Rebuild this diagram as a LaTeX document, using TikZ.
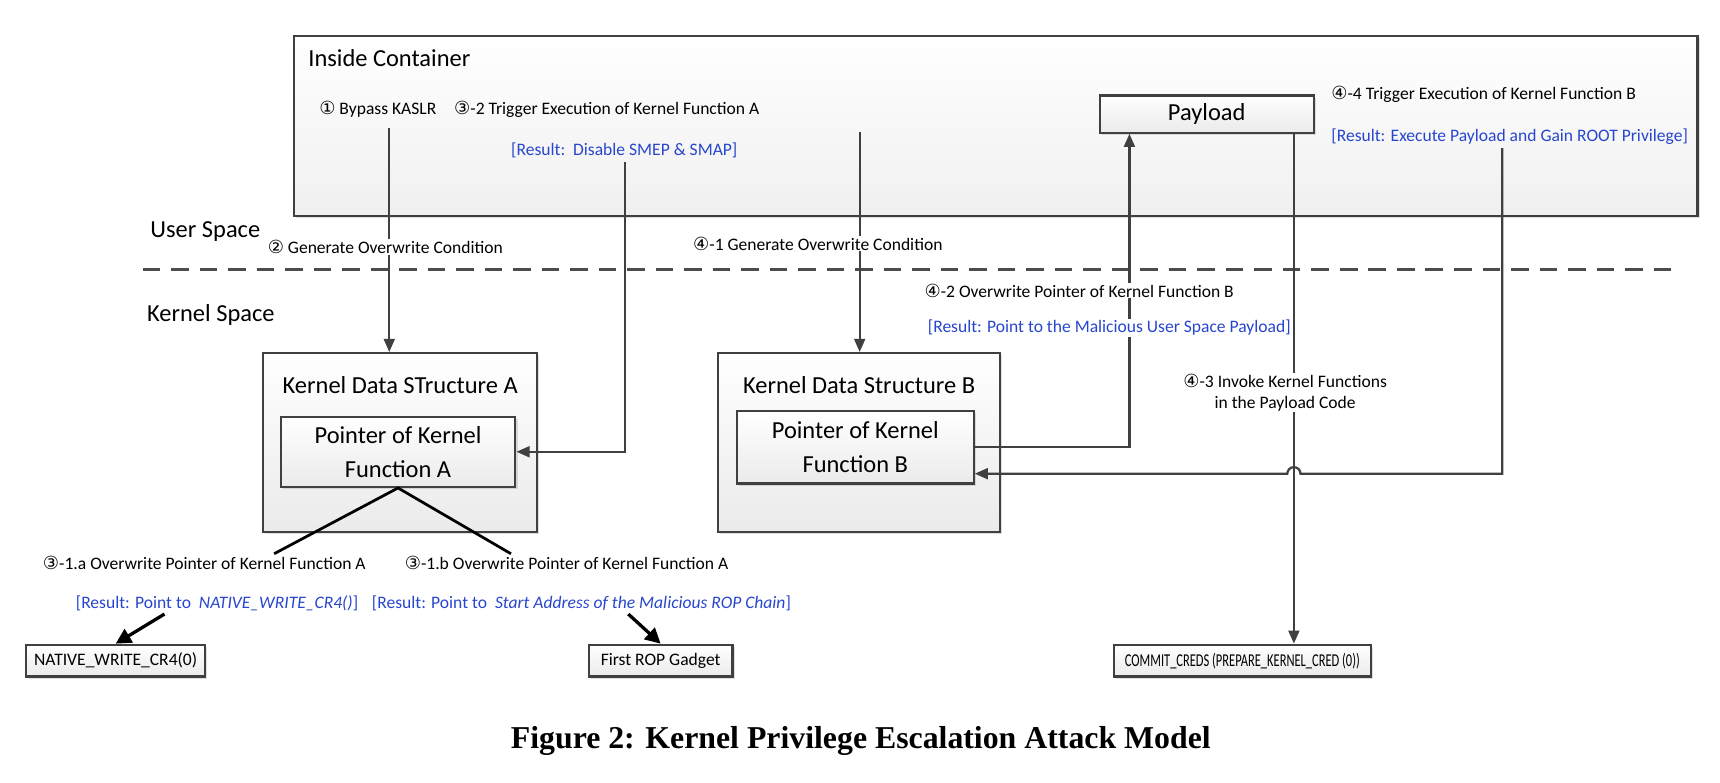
\documentclass[tikz,border=0pt]{standalone}
\usepackage{fontspec}
\setmainfont{Carlito}
\newfontfamily\circfont{DejaVu Sans}
\newfontfamily\capfont{Liberation Serif}
\newfontfamily\condfont{Carlito}[FakeStretch=0.69]
\usetikzlibrary{arrows.meta,shadows,calc}
\definecolor{resblue}{RGB}{40,70,205}
\definecolor{linegray}{RGB}{64,64,64}
\newcommand{\cn}[1]{{\circfont\fontsize{16.5}{16}\selectfont #1}}
\begin{document}
\begin{tikzpicture}[x=1pt,y=-1pt,
 small/.style={font=\fontsize{16}{19}\selectfont, inner sep=1pt},
 big/.style={font=\fontsize{22.3}{31}\selectfont, inner sep=1pt},
 res/.style={small, text=resblue},
 box/.style={draw=linegray, line width=2pt, top color=white, bottom color=gray!16,
   drop shadow={shadow xshift=2pt, shadow yshift=-2pt, opacity=0.25}, inner sep=0pt},
 conn/.style={draw=linegray, line width=2pt},
 arr/.style={conn, -{Triangle[length=12pt,width=10pt]}},
 barr/.style={draw=black, line width=3pt, -{Triangle[length=14pt,width=14pt]}},
 blk/.style={draw=black, line width=2.5pt},
 lbl/.style={small, fill=white},
 dashline/.style={draw=black!70, line width=2.5pt, dash pattern=on 16pt off 10pt}
]
\useasboundingbox (0,0) rectangle (1568.6,713.2);
% container
\node[box, minimum width=1280pt, minimum height=164pt, bottom color=gray!12] (cont) at (908,115) {};
\node[big, anchor=north west] (contlbl) at (280,44) {Inside Container};
\node[small, anchor=west] (s1) at (290,100) {\cn{①} Bypass KASLR};
\node[small, anchor=west] (s32) at (413,100) {\cn{③}-2 Trigger Execution of Kernel Function A};
\node[res, anchor=west] (r32) at (465,137) {[Result:\ \ Disable SMEP \& SMAP]};
\node[small, anchor=west] (s44) at (1213,86) {\cn{④}-4 Trigger Execution of Kernel Function B};
\node[res, anchor=west] (r44) at (1213,125) {[Result: Execute Payload and Gain ROOT Privilege]};
\node[box, minimum width=195pt, minimum height=34pt, font=\fontsize{22.3}{25}\selectfont] (pay) at (1100.5,104) {Payload};
% spaces
\node[big, anchor=west] (us) at (136,211) {User Space};
\node[big, anchor=west] (ks) at (133,287) {Kernel Space};
\coordinate (d1) at (130,246);
\coordinate (d2) at (1530,246);
\draw[dashline] (d1) -- (d2);
% kernel structures
\node[box, minimum width=250pt, minimum height=163pt] (kda) at (365,403.5) {};
\node[big] (kdat) at (365,351) {Kernel Data STructure A};
\node[box, minimum width=214pt, minimum height=64pt, big, align=center] (pa) at (363,412) {Pointer of Kernel\\Function A};
\node[box, minimum width=257pt, minimum height=163pt] (kdb) at (783.5,403.5) {};
\node[big] (kdbt) at (783.5,351) {Kernel Data Structure B};
\node[box, minimum width=216pt, minimum height=66pt, big, align=center] (pb) at (780,408) {Pointer of Kernel\\Function B};
% bottom boxes
\node[box, minimum width=163pt, minimum height=29pt, small] (nw) at (105.5,602.5) {NATIVE\_WRITE\_CR4(0)};
\node[box, minimum width=131pt, minimum height=29pt, small] (rop) at (602.5,602.5) {First ROP Gadget};
\node[box, minimum width=234pt, minimum height=29pt, font=\condfont\fontsize{16.5}{19}\selectfont] (cc) at (1133,602.5) {COMMIT\_CREDS (PREPARE\_KERNEL\_CRED (0))};
% connectors
\coordinate (p1) at (355,117);
\draw[arr] (p1) -- (p1 |- kda.north);
\coordinate (p2) at (570,148);
\draw[arr] (p2) |- (pa.east);
\coordinate (p3) at (784,120);
\draw[arr] (p3) -- (p3 |- kdb.north);
\coordinate (p4) at (1030,300);
\draw[arr] (pb.east) -| (p4 |- pay.south);
\coordinate (p5) at (1180,300);
\draw[arr] (p5 |- pay.south) -- (p5 |- cc.north);
\coordinate (p6) at (1370,135);
\coordinate (h6) at (1370,432);
\coordinate (h7) at (1186,432);
\draw[arr] (p6) -- (h6) -- (h7) arc[start angle=0, end angle=-180, radius=6] -- (h6 -| pb.east);
\coordinate (q1) at (250,505);
\coordinate (q2) at (466,505);
\draw[blk] (q1) -- (pa.south) -- (q2);
\coordinate (q3) at (150,560);
\draw[barr] (q3) -- (nw.north);
\coordinate (q4) at (573,560);
\draw[barr] (q4) -- (rop.north);
% labels over lines
\node[lbl, anchor=west] (s2) at (243,225) {\cn{②} Generate Overwrite Condition};
\node[lbl, anchor=west] (s41) at (631,222) {\cn{④}-1 Generate Overwrite Condition};
\node[lbl, anchor=west] (s42) at (842,265) {\cn{④}-2 Overwrite Pointer of Kernel Function B};
\node[lbl, text=resblue, anchor=west] (r42) at (845,299) {[Result: Point to the Malicious User Space Payload]};
\node[lbl, align=center] (s43) at (1172,358) {\cn{④}-3 Invoke Kernel Functions\\in the Payload Code};
\node[small, anchor=west] (s31a) at (38,513) {\cn{③}-1.a Overwrite Pointer of Kernel Function A};
\node[small, anchor=west] (s31b) at (368,513) {\cn{③}-1.b Overwrite Pointer of Kernel Function A};
\node[res, anchor=west] (r31a) at (68,550) {[Result: Point to\ \ \textit{NATIVE\_WRITE\_CR4()}]};
\node[res, anchor=west] (r31b) at (338,550) {[Result: Point to\ \ \textit{Start Address of the Malicious ROP Chain}]};
% caption
\node[font=\capfont\bfseries\fontsize{29}{32}\selectfont] (cap) at (785,676) {Figure 2: Kernel Privilege Escalation Attack Model};
\end{tikzpicture}
\end{document}
